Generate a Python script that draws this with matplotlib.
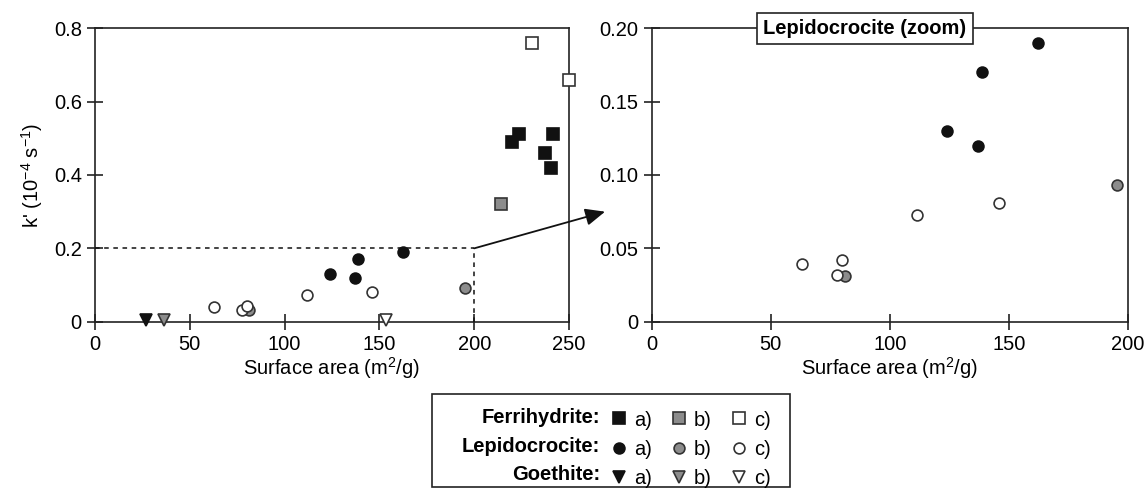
import matplotlib
matplotlib.use('Agg')
import matplotlib.pyplot as plt
from matplotlib.patches import ConnectionPatch, Rectangle
from matplotlib.lines import Line2D

plt.rcParams['font.family'] = ['Liberation Sans', 'DejaVu Sans']
plt.rcParams['mathtext.default'] = 'regular'

# surface area (m2/g) and k' (1e-4 s-1)
ferri_a_x = [220, 223.6, 237.5, 240.3, 241.7]
ferri_a_y = [0.49, 0.512, 0.461, 0.42, 0.512]
ferri_b_x = [214.3]
ferri_b_y = [0.32]
ferri_c_x = [230.3, 250.2]
ferri_c_y = [0.76, 0.659]

lepi_a_x = [124, 137.1, 138.8, 162.4]
lepi_a_y = [0.13, 0.12, 0.17, 0.19]
lepi_b_x = [81.1, 195.4]
lepi_b_y = [0.031, 0.093]
lepi_c_x = [63.0, 77.7, 80.0, 111.6, 146.0]
lepi_c_y = [0.039, 0.032, 0.042, 0.0725, 0.081]

goe_a_x = [26.7]
goe_a_y = [0.005]
goe_b_x = [36.4]
goe_b_y = [0.005]
goe_c_x = [153.5]
goe_c_y = [0.005]

black = '#111111'
grey = '#8c8c8c'
fs = 14.5
W, H = 1148, 488

styles = {
    'fa': dict(marker='s', mfc=black, mec=black, ms=8.4),
    'fb': dict(marker='s', mfc=grey, mec='#333333', ms=8.4),
    'fc': dict(marker='s', mfc='white', mec='#333333', ms=8.4),
    'la': dict(marker='o', mfc=black, mec=black, ms=7.8),
    'lb': dict(marker='o', mfc=grey, mec='#333333', ms=7.8),
    'lc': dict(marker='o', mfc='white', mec='#333333', ms=7.8),
    'ga': dict(marker='v', mfc=black, mec=black, ms=8.6),
    'gb': dict(marker='v', mfc=grey, mec='#333333', ms=8.6),
    'gc': dict(marker='v', mfc='white', mec='#333333', ms=8.6),
}


def pts(ax, x, y, key):
    ax.plot(x, y, linestyle='none', mew=1.2, clip_on=False, zorder=5, **styles[key])


def style_axes(ax):
    for s in ax.spines.values():
        s.set_linewidth(1.2)
        s.set_color('#222222')
    ax.tick_params(direction='inout', length=11, width=1.2, color='#222222',
                   labelsize=fs, pad=4)


fig = plt.figure(figsize=(W / 100, H / 100), dpi=100)
ax1 = fig.add_axes([95 / W, (H - 321.7) / H, 474 / W, 293.4 / H])
ax2 = fig.add_axes([651.7 / W, (H - 321.7) / H, 476 / W, 293.4 / H])

pts(ax1, ferri_a_x, ferri_a_y, 'fa')
pts(ax1, ferri_b_x, ferri_b_y, 'fb')
pts(ax1, ferri_c_x, ferri_c_y, 'fc')
pts(ax1, lepi_a_x, lepi_a_y, 'la')
pts(ax1, lepi_b_x, lepi_b_y, 'lb')
pts(ax1, lepi_c_x, lepi_c_y, 'lc')
pts(ax1, goe_a_x, goe_a_y, 'ga')
pts(ax1, goe_b_x, goe_b_y, 'gb')
pts(ax1, goe_c_x, goe_c_y, 'gc')

ax1.plot([0, 200], [0.2, 0.2], color=black, lw=1.1, dashes=(3, 3), zorder=3)
ax1.plot([200, 200], [0, 0.2], color=black, lw=1.1, dashes=(3, 3), zorder=3)

ax1.set_xlim(0, 250)
ax1.set_ylim(0, 0.8)
ax1.set_xticks([0, 50, 100, 150, 200, 250])
ax1.set_yticks([0, 0.2, 0.4, 0.6, 0.8])
ax1.set_yticklabels(['0', '0.2', '0.4', '0.6', '0.8'])
ax1.set_xlabel('Surface area (m$^2$/g)', fontsize=fs, labelpad=1)
ax1.set_ylabel("k' (10$^{-4}$ s$^{-1}$)", fontsize=fs, labelpad=6)
style_axes(ax1)

pts(ax2, lepi_a_x, lepi_a_y, 'la')
pts(ax2, lepi_b_x, lepi_b_y, 'lb')
pts(ax2, lepi_c_x, lepi_c_y, 'lc')
ax2.set_xlim(0, 200)
ax2.set_ylim(0, 0.2)
ax2.set_xticks([0, 50, 100, 150, 200])
ax2.set_yticks([0, 0.05, 0.1, 0.15, 0.2])
ax2.set_yticklabels(['0', '0.05', '0.10', '0.15', '0.20'])
ax2.set_xlabel('Surface area (m$^2$/g)', fontsize=fs, labelpad=1)
style_axes(ax2)
ax2.text(0.448, 1.0, 'Lepidocrocite (zoom)', transform=ax2.transAxes, ha='center',
         va='center', fontsize=fs, fontweight='bold', zorder=10,
         bbox=dict(boxstyle='square,pad=0.3', fc='white', ec='#222222', lw=1.2))

arrow = ConnectionPatch(xyA=(200, 0.2), coordsA=ax1.transData,
                        xyB=(-19.6, 0.075), coordsB=ax2.transData,
                        arrowstyle='-|>,head_length=0.8,head_width=0.35',
                        mutation_scale=15, color=black, lw=1.3, shrinkA=0, shrinkB=0)
fig.add_artist(arrow)

# legend box
fig.patches.append(Rectangle((432 / W, 1 / H), (790 - 432) / W, (487 - 394) / H,
                             transform=fig.transFigure, fill=False,
                             ec='#222222', lw=1.2))
names = ['Ferrihydrite:', 'Lepidocrocite:', 'Goethite:']
rows_y = [417.3, 446.5, 475]
for name, ry in zip(names, rows_y):
    fig.text(600 / W, (H - ry) / H, name, ha='right', va='center',
             fontsize=fs, fontweight='bold')

order = ['fa', 'la', 'ga', 'fb', 'lb', 'gb', 'fc', 'lc', 'gc']
handles = [Line2D([], [], linestyle='none', mew=1.2, **styles[k]) for k in order]
labels = ['a)', 'a)', 'a)', 'b)', 'b)', 'b)', 'c)', 'c)', 'c)']
fig.legend(handles, labels, ncol=3, loc='upper left',
           bbox_to_anchor=(611.3 / W, (H - 410.5) / H), frameon=False,
           fontsize=fs, handlelength=0.8, handletextpad=0.33, columnspacing=0.96,
           labelspacing=0.5, borderpad=0, borderaxespad=0)

fig.savefig('out.png', dpi=100)
